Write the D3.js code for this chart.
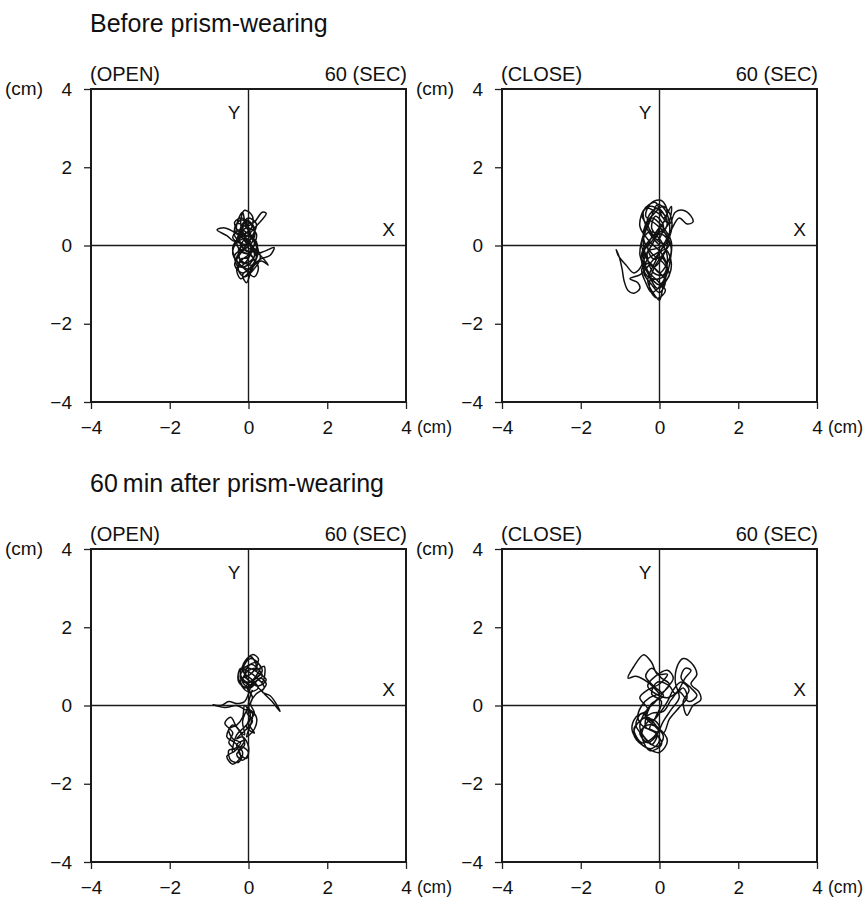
<!DOCTYPE html>
<html>
<head>
<meta charset="utf-8">
<script src="https://cdn.jsdelivr.net/npm/d3@7"></script>
<style>
  body { margin: 0; background: #fff; }
  text { font-family: "Liberation Sans", Arial, sans-serif; fill: #111; }
</style>
</head>
<body>
<script>
// sway paths, [x (cm), y (cm)]
const beforeOpen = [[0,0],[-0.2,0.3],[-0.1,0.6],[0.05,0.2],[-0.25,-0.3],[0.1,-0.5],[0.2,0.1],[-0.3,0.4],[-0.15,0.85],[-0.05,0.5],[0.15,0.6],[0.35,0.85],[0.45,0.82],[0.2,0.5],[-0.1,0.2],[-0.35,0.1],[-0.55,0.25],[-0.8,0.4],[-0.6,0.45],[-0.3,0.3],[0,0.05],[0.2,-0.2],[0.4,-0.15],[0.65,-0.05],[0.55,-0.25],[0.3,-0.35],[0.1,-0.55],[-0.15,-0.75],[-0.05,-0.95],[0.05,-0.7],[0.15,-0.4],[-0.1,-0.1],[-0.35,-0.25],[-0.25,-0.55],[-0.05,-0.4],[0.1,-0.1],[0.2,0.3],[-0.05,0.45],[-0.3,0.15],[-0.2,-0.15],[0.05,-0.25],[0.25,-0.55],[0.15,-0.8],[-0.1,-0.6],[-0.3,-0.4],[-0.4,-0.05],[-0.2,0.25],[0.05,0.4],[0.1,0.75],[-0.1,0.9],[-0.2,0.55],[-0.05,0.15],[0.1,-0.15],[-0.15,-0.35],[-0.3,-0.6],[-0.2,-0.85],[0,-0.7],[0.2,-0.45],[0.35,-0.4],[0.5,-0.5],[0.3,-0.25],[0.05,0],[-0.2,0.05],[-0.4,0.2],[-0.25,0.4],[0,0.3],[0.15,0.05],[0,-0.2],[-0.2,-0.1],[-0.1,0.15],[0.05,0.1],
  [-0.25,0.35],[-0.35,0.6],[-0.15,0.7],[0,0.4],[-0.3,0.1],[-0.4,-0.2],[-0.2,-0.5],[0.05,-0.6],[0.2,-0.3],[0.05,0.05],[-0.15,0.3],[-0.05,0.65],[0.15,0.45],[0.1,0.1],[-0.2,-0.2],[-0.35,-0.5],[-0.15,-0.7],[0.1,-0.5],[0.25,-0.15],[0.1,0.2],[-0.1,0.5],[-0.3,0.55],[-0.35,0.25],[-0.1,0],[0.15,-0.2],[0.05,-0.45],[-0.2,-0.55],[-0.3,-0.3],[-0.1,-0.05],[0.1,0.25],[0.2,0.55],[0,0.7],[-0.2,0.45],[-0.25,0.15],[-0.05,-0.15],[0.2,-0.1],[0.3,-0.3],[0.1,-0.65],[-0.1,-0.8],[-0.25,-0.65],[-0.2,-0.35],[0,-0.3],[0.05,0],[-0.15,0.2],[-0.35,0.4],[-0.2,0.65],[0.05,0.55],[0.15,0.3],[-0.05,0.05],[-0.25,-0.1],[-0.15,-0.45],[0.1,-0.35],[0.2,0],[0,0.25]];
const beforeClose = [[0,0],[-0.3,0.4],[-0.4,0.9],[-0.1,1.1],[0.1,0.7],[0.3,1.0],[0.2,0.5],[-0.2,0.2],[-0.45,-0.2],[-0.3,-0.7],[0,-1.0],[0.2,-0.6],[0.05,-0.2],[-0.25,0.1],[-0.5,0.5],[-0.35,0.95],[0,0.8],[0.25,0.55],[0.4,0.85],[0.6,0.9],[0.8,0.75],[0.85,0.6],[0.7,0.55],[0.5,0.7],[0.3,0.4],[0.1,0],[-0.1,-0.4],[-0.3,-0.9],[-0.1,-1.3],[0,-1.4],[0.1,-1.0],[0.25,-0.5],[0.3,0.1],[0.1,0.45],[-0.2,0.7],[-0.4,0.3],[-0.5,-0.2],[-0.45,-0.5],[-0.65,-0.7],[-0.85,-0.5],[-1.05,-0.25],[-1.1,-0.1],[-1.02,-0.3],[-0.95,-0.6],[-0.9,-0.9],[-0.8,-1.15],[-0.65,-1.22],[-0.5,-1.1],[-0.55,-0.95],[-0.75,-0.85],[-0.5,-0.75],[-0.35,-0.6],[-0.1,-0.3],[0.15,-0.1],[0.3,-0.45],[0.2,-0.85],[-0.05,-1.1],[-0.25,-0.8],[-0.4,-0.4],[-0.2,0],[0,0.3],[0.2,0.15],[0.1,-0.25],[-0.15,-0.55],[-0.35,-0.25],[-0.4,0.2],[-0.25,0.6],[-0.05,1.05],[0.15,0.9],[0.25,0.3],[0,-0.05],[-0.3,-0.15],[-0.15,-0.7],[0.1,-0.75],[0.2,-0.3],[0.05,0.1],[-0.2,0.45],[-0.1,0.75],[0.1,0.5],[-0.05,0.15],
  [-0.3,0.5],[-0.45,0.8],[-0.25,1.0],[0,0.9],[0.2,0.6],[0.05,0.3],[-0.25,0.35],[-0.45,0.1],[-0.35,-0.3],[-0.1,-0.6],[0.15,-0.9],[0,-1.2],[-0.2,-1.0],[-0.4,-0.7],[-0.3,-0.35],[0,-0.15],[0.25,0.2],[0.3,0.7],[0.1,1.0],[-0.15,0.8],[-0.35,0.55],[-0.4,0.15],[-0.2,-0.2],[0.1,-0.45],[0.25,-0.75],[0.05,-1.0],[-0.2,-1.2],[-0.35,-0.95],[-0.45,-0.6],[-0.25,-0.45],[0,-0.7],[0.2,-0.45],[0.3,-0.1],[0.15,0.3],[-0.1,0.55],[-0.35,0.75],[-0.2,1.1],[0.05,1.15],[0.2,0.85],[0.05,0.5],[-0.2,0.1],[-0.4,-0.15],[-0.3,-0.65],[-0.05,-0.9],[0.15,-1.15],[-0.05,-1.35],[-0.25,-1.1],[-0.15,-0.6],[0.1,-0.2],[0.25,0.05],[0.1,0.35],[-0.15,0.25],[-0.3,-0.05],[-0.15,-0.35],[0.05,-0.3],[0.2,-0.65],[0,-0.85],[-0.3,-0.8],[-0.45,-0.35],[-0.3,0.05],[-0.05,0.4],[0.15,0.7],[-0.05,0.95],[-0.3,0.7],[-0.2,0.3],[0.05,0.05]];
const afterOpen = [[0.1,0.5],[-0.2,0.7],[-0.1,1.1],[0.1,1.3],[0.25,1.2],[0.2,0.9],[0.4,1.0],[0.35,0.6],[0.1,0.8],[-0.2,0.95],[-0.25,0.6],[0,0.45],[0.3,0.7],[0.45,0.55],[0.35,0.35],[0.55,0.25],[0.7,0.05],[0.8,-0.15],[0.6,0.1],[0.4,0.3],[0.15,0.55],[-0.1,0.75],[0.05,1.05],[0.3,0.85],[0.1,0.6],[0,0.3],[-0.1,0.1],[-0.3,0.05],[-0.5,0.1],[-0.7,0.0],[-0.9,0.02],[-0.6,-0.05],[-0.3,0.0],[-0.1,-0.1],[0.1,-0.2],[0.05,-0.5],[-0.05,-0.8],[0.15,-0.6],[0.2,-0.3],[0,-0.1],[-0.15,-0.4],[-0.1,-0.75],[-0.3,-0.55],[-0.45,-0.3],[-0.6,-0.45],[-0.4,-0.7],[-0.5,-0.95],[-0.35,-1.15],[-0.55,-1.3],[-0.4,-1.5],[-0.2,-1.3],[-0.3,-1.0],[-0.1,-0.9],[-0.25,-1.2],[-0.05,-1.35],[0,-1.05],[-0.15,-0.8],[-0.3,-0.85],[-0.05,-0.6],[0.1,-0.4],[-0.05,-0.15],[0.1,0.2],[-0.05,0.5],[0.15,0.7],[0.3,1.0],[0.05,1.2],[-0.15,0.9],[0.1,0.65],[0.25,0.45],[0,0.35],
  [-0.2,0.55],[-0.25,0.85],[-0.05,1.0],[0.2,1.1],[0.35,0.9],[0.2,0.7],[-0.05,0.6],[-0.2,0.8],[0,0.95],[0.3,0.8],[0.45,0.65],[0.25,0.5],[0,0.65],[-0.15,1.0],[0.05,1.25],[0.2,1.0],[0.05,0.8],[-0.2,0.65],[-0.1,0.45],[0.15,0.6],[0.35,0.75],[0.2,0.95],[-0.05,0.85],[-0.15,0.6],[0.05,0.45],[0.25,0.65],[0.4,0.45],[0.2,0.3],[0.05,0.05],[0.15,-0.2],[0,-0.45],[0.15,-0.7],[-0.05,-0.55],[0.05,-0.25],[-0.1,0],[-0.15,-0.3],[-0.3,-0.5],[-0.5,-0.6],[-0.4,-0.85],[-0.2,-0.95],[-0.35,-1.1],[-0.5,-1.15],[-0.45,-1.4],[-0.25,-1.45],[-0.15,-1.2],[-0.35,-0.95],[-0.55,-0.8],[-0.4,-0.5],[-0.2,-0.7],[-0.1,-1.0],[-0.3,-1.25],[-0.15,-1.4],[0,-1.2],[-0.2,-1.05],[-0.4,-1.2],[-0.3,-0.75],[-0.1,-0.55],[0.05,-0.35],[0,0.05],[0.1,0.4]];
const afterClose = [[0,0.3],[-0.3,0.6],[-0.6,0.75],[-0.8,0.7],[-0.65,1.0],[-0.4,1.3],[-0.2,1.1],[-0.05,0.8],[0.2,0.8],[0,0.55],[-0.3,0.4],[-0.5,0.2],[-0.3,-0.1],[-0.6,-0.3],[-0.7,-0.6],[-0.55,-0.9],[-0.3,-1.1],[0,-1.2],[0.2,-0.9],[0,-0.6],[-0.3,-0.5],[-0.5,-0.7],[-0.3,-0.95],[-0.1,-0.8],[0.1,-0.4],[0.3,-0.1],[0.5,0.2],[0.4,0.6],[0.45,1.0],[0.6,1.2],[0.8,1.1],[0.95,0.8],[0.8,0.55],[1.0,0.35],[1.05,0.15],[0.85,0.0],[0.7,-0.25],[0.6,0.1],[0.75,0.4],[0.55,0.6],[0.35,0.4],[0.2,0.1],[0,-0.2],[-0.2,-0.4],[-0.45,-0.2],[-0.6,-0.5],[-0.4,-0.8],[-0.2,-1.0],[-0.05,-0.7],[-0.25,-0.6],[-0.1,-0.3],[0.05,0.1],[-0.2,0.3],[-0.05,0.6],[0.25,0.5],[0.4,0.3],[0.6,0.45],[0.7,0.2],[0.5,-0.05],[0.25,-0.35],[0.1,-0.7],[-0.15,-0.5],[-0.35,-0.3],[-0.2,0.05],[0.1,0.25],
  [-0.15,0.5],[-0.35,0.75],[-0.2,0.95],[0.05,0.7],[0.25,0.55],[0.1,0.35],[-0.25,0.2],[-0.45,0.0],[-0.55,-0.3],[-0.4,-0.55],[-0.15,-0.65],[0,-0.9],[-0.2,-1.1],[-0.45,-1.0],[-0.65,-0.75],[-0.55,-0.45],[-0.3,-0.3],[-0.1,-0.5],[0.1,-0.8],[-0.05,-1.05],[-0.35,-0.85],[-0.5,-0.55],[-0.35,-0.15],[-0.1,0.1],[0.15,0.4],[0.35,0.7],[0.2,0.9],[-0.1,0.75],[-0.3,0.5],[-0.1,0.3],[0.2,0.2],[0.45,0.35],[0.65,0.7],[0.8,0.9],[0.65,0.95],[0.55,0.7],[0.8,0.45],[0.95,0.25],[0.75,0.1],[0.5,0.35],[0.3,0.15],[0.1,-0.15],[-0.2,-0.2],[-0.5,-0.4],[-0.65,-0.6],[-0.45,-0.95],[-0.2,-0.85],[0,-0.55],[-0.2,-0.35],[-0.45,-0.7],[-0.25,-1.15],[0.05,-1.0],[-0.1,-0.7],[-0.35,-0.55],[-0.25,-0.05],[0,0.2]];

const ticks = [-4, -2, 0, 2, 4];
const rowTitles = ["Before prism-wearing", "60\u2009min after prism-wearing"];
const conditions = ["(OPEN)", "(CLOSE)"];
const durationLabel = "60 (SEC)";
const traces = [[beforeOpen, beforeClose], [afterOpen, afterClose]];

const size = 315;
const colX = [91, 502];
const rowY = [89, 549];

const svg = d3.select("body").append("svg")
    .attr("width", 868)
    .attr("height", 900);

const x = d3.scaleLinear().domain([-4, 4]).range([0, size]);
const y = d3.scaleLinear().domain([-4, 4]).range([size - 2, 0]);
const line = d3.line()
    .x(d => x(d[0]))
    .y(d => y(d[1]))
    .curve(d3.curveCatmullRom.alpha(0.5));

rowTitles.forEach((title, r) => {
    svg.append("text")
        .attr("x", colX[0] - 1)
        .attr("y", rowY[r] - 57)
        .attr("font-size", 25)
        .text(title);

    conditions.forEach((cond, c) => {
        const g = svg.append("g")
            .attr("transform", `translate(${colX[c]},${rowY[r]})`);

        g.append("text")
            .attr("x", -1)
            .attr("y", -8)
            .attr("font-size", 20)
            .text(cond);
        g.append("text")
            .attr("x", size + 1)
            .attr("y", -8)
            .attr("text-anchor", "end")
            .attr("font-size", 20)
            .text(durationLabel);

        // axes
        const yAxis = g.append("g")
            .call(d3.axisLeft(y).tickValues(ticks).tickSize(7).tickPadding(12));
        const xAxis = g.append("g")
            .attr("transform", `translate(0,${y(-4)})`)
            .call(d3.axisBottom(x).tickValues(ticks).tickSize(7).tickPadding(8));
        [yAxis, xAxis].forEach(a => {
            a.select(".domain").remove();
            a.selectAll("line").attr("stroke", "#222").attr("stroke-width", 1.3);
            a.selectAll("text").attr("font-size", 19).attr("fill", "#111")
                .attr("font-family", "Liberation Sans, Arial, sans-serif");
        });
        xAxis.selectAll("text").attr("dy", "0.9em");

        g.append("text")
            .attr("x", -86)
            .attr("y", y(4))
            .attr("dy", "0.34em")
            .attr("font-size", 19)
            .text("(cm)");
        g.append("text")
            .attr("x", size + 11)
            .attr("y", y(-4) + 15)
            .attr("dy", "0.9em")
            .attr("font-size", 17.5)
            .text("(cm)");

        // frame and zero lines
        g.append("rect")
            .attr("x", x(-4))
            .attr("y", y(4))
            .attr("width", x(4) - x(-4))
            .attr("height", y(-4) - y(4))
            .attr("fill", "none")
            .attr("stroke", "#1a1a1a")
            .attr("stroke-width", 2);
        g.append("line")
            .attr("x1", x(0)).attr("x2", x(0))
            .attr("y1", y(4)).attr("y2", y(-4))
            .attr("stroke", "#1a1a1a")
            .attr("stroke-width", 1.4);
        g.append("line")
            .attr("x1", x(-4)).attr("x2", x(4))
            .attr("y1", y(0)).attr("y2", y(0))
            .attr("stroke", "#1a1a1a")
            .attr("stroke-width", 1.4);

        g.append("text")
            .attr("x", x(0) - 8)
            .attr("y", y(4) + 30)
            .attr("text-anchor", "end")
            .attr("font-size", 19)
            .text("Y");
        g.append("text")
            .attr("x", x(4) - 11)
            .attr("y", y(0) - 10)
            .attr("text-anchor", "end")
            .attr("font-size", 19)
            .text("X");

        g.append("path")
            .datum(traces[r][c])
            .attr("d", line)
            .attr("fill", "none")
            .attr("stroke", "#111")
            .attr("stroke-width", 1.5)
            .attr("stroke-linejoin", "round");
    });
});
</script>
</body>
</html>
